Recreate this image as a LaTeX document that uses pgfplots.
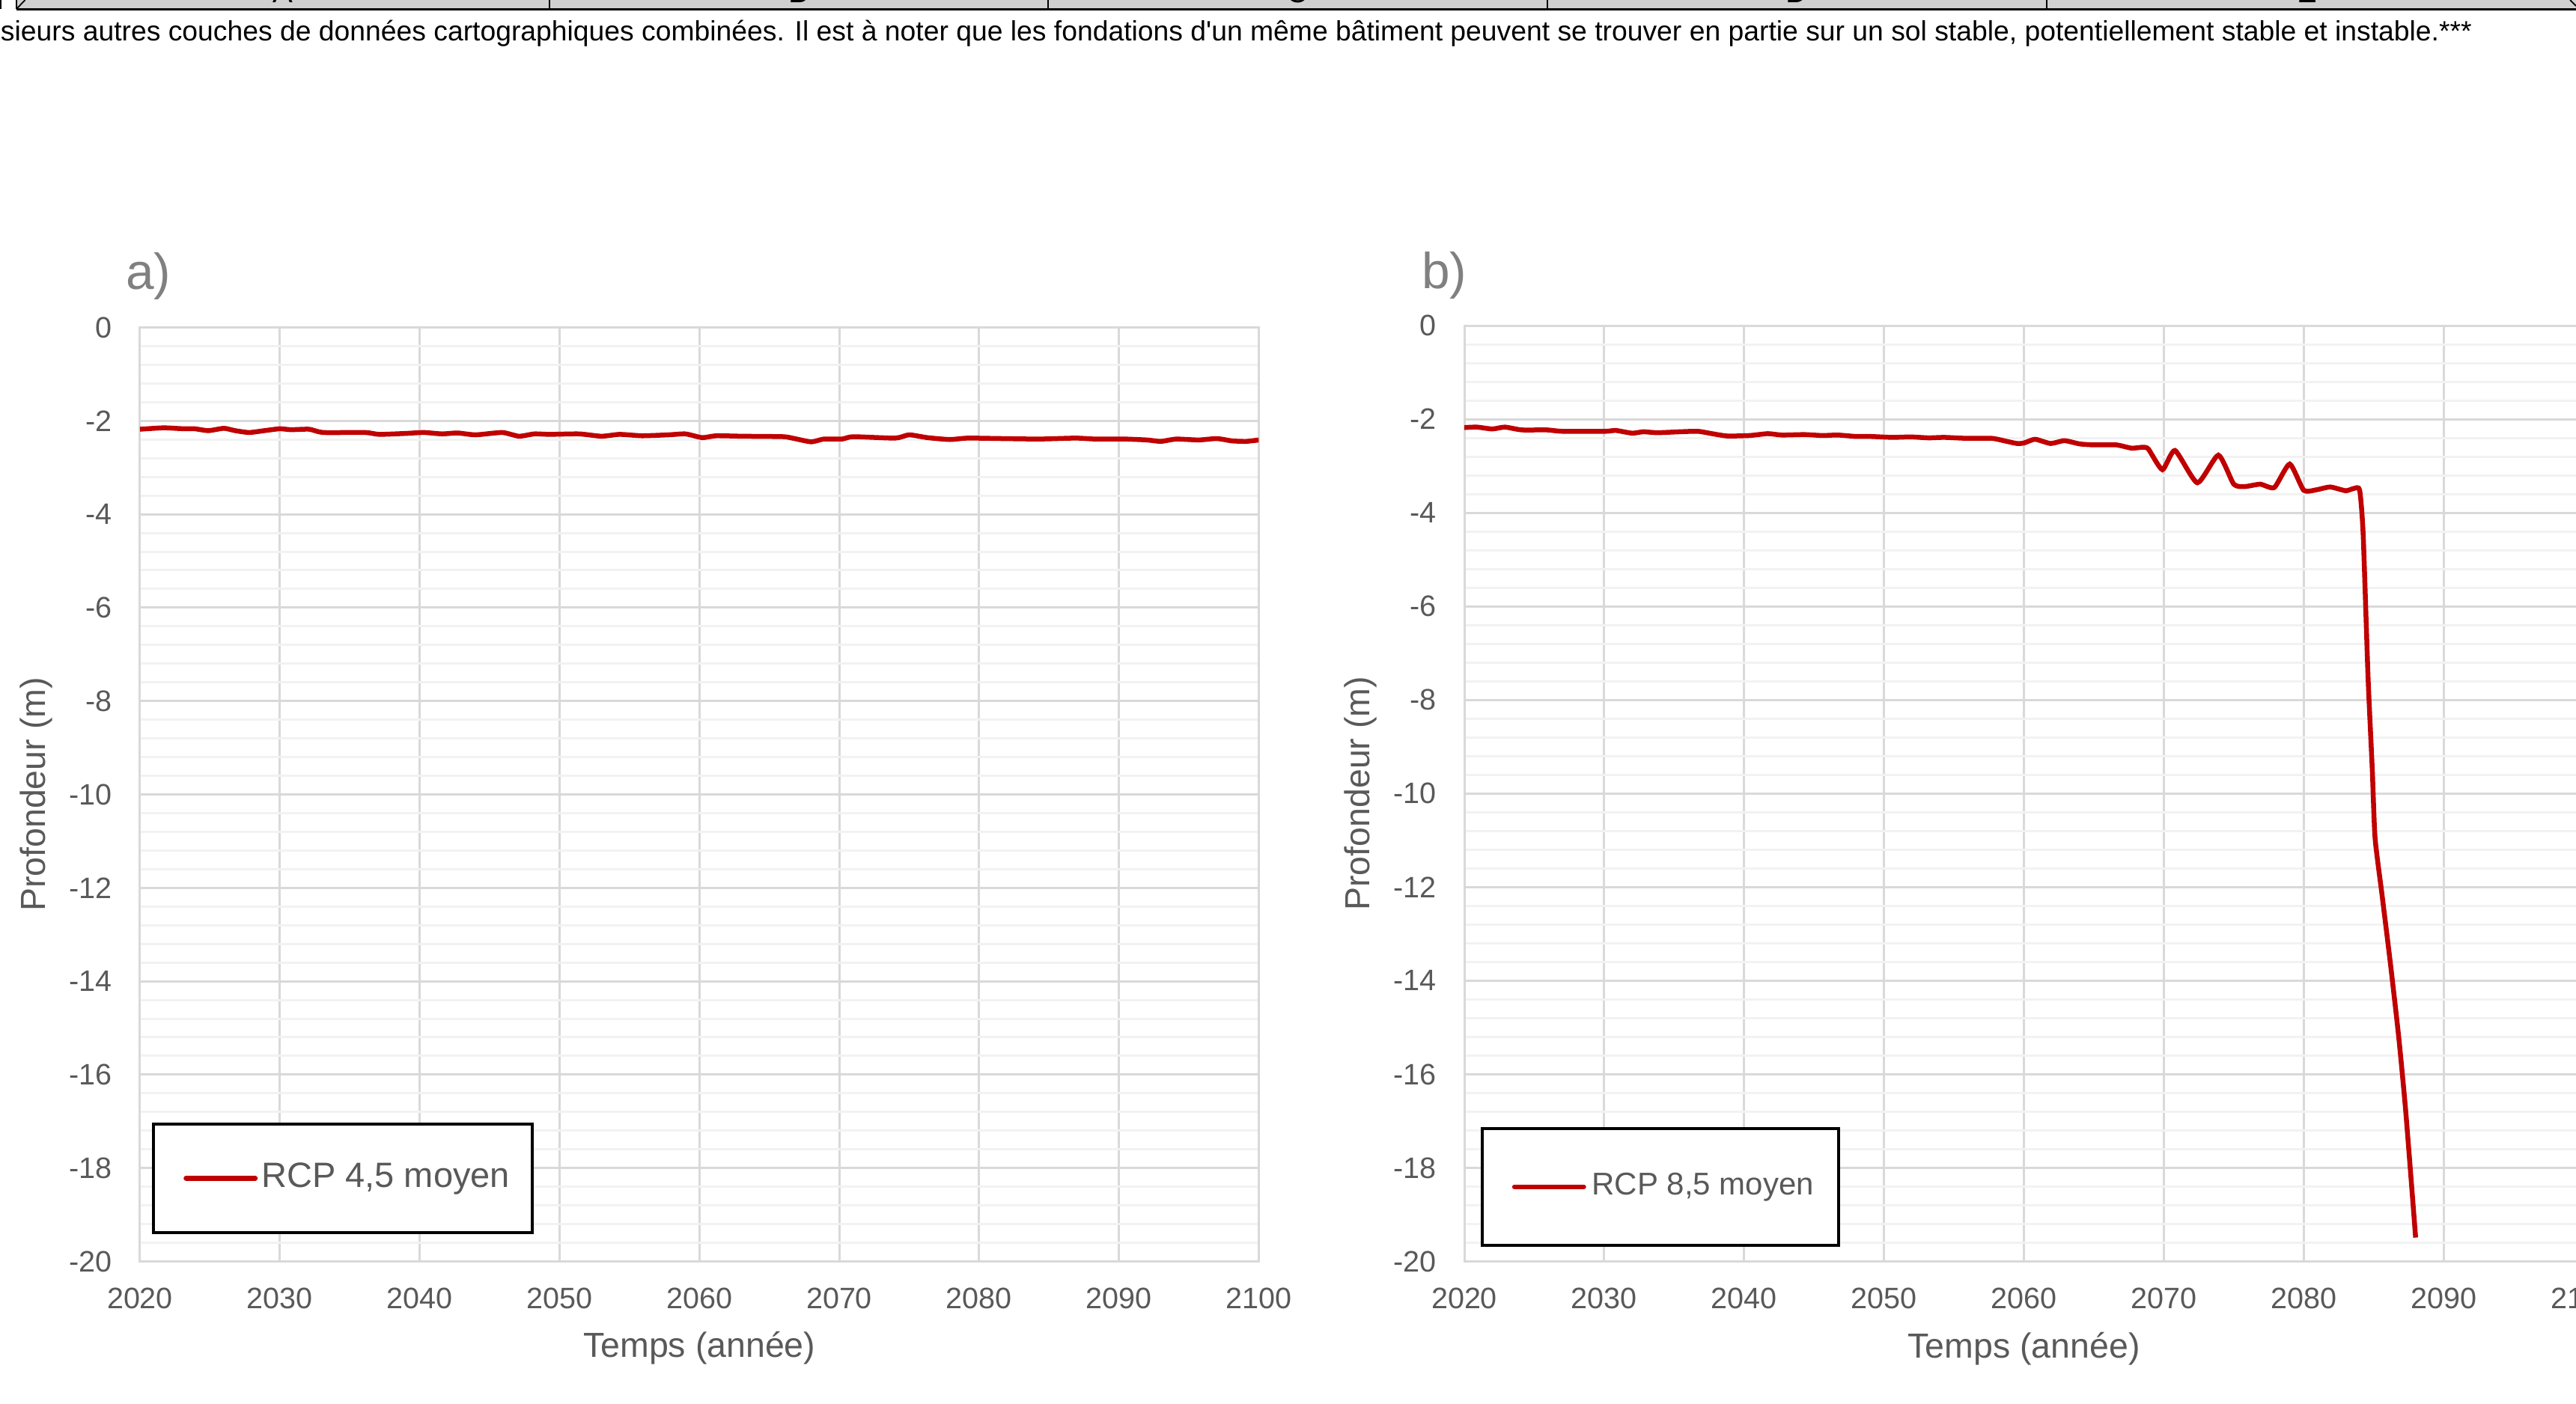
\documentclass[border=0pt]{standalone}
\usepackage{fontspec}
\setmainfont{Liberation Sans}
\usepackage{pgfplots}
\pgfplotsset{compat=1.18}
\definecolor{excelred}{HTML}{C00000}
\definecolor{gridmaj}{HTML}{D9D9D9}
\definecolor{gridmin}{HTML}{F2F2F2}
\definecolor{labgray}{HTML}{595959}
\definecolor{titlegray}{HTML}{808080}
\definecolor{stripgray}{HTML}{D0D0D0}
\pgfplotsset{
  myaxis/.style={
    scale only axis, width=298.9pt, height=249.6pt,
    xmin=2020, xmax=2100, ymin=-20, ymax=0,
    xtick={2020,2030,...,2100}, ytick={-20,-18,...,0},
    minor y tick num=4,
    grid=both,
    major grid style={draw=gridmaj, line width=0.6pt},
    minor grid style={draw=gridmin, line width=0.6pt},
    axis line style={draw=gridmaj, line width=0.6pt},
    tick style={draw=none},
    major tick length=0pt, minor tick length=0pt,
    tick label style={font=\fontsize{7.9}{9}\selectfont, text=labgray},
    /pgf/number format/assume math mode=true,
    /pgf/number format/1000 sep={},
    yticklabel style={inner sep=0pt, anchor=east, xshift=-7.3pt},
    xticklabel style={inner sep=0pt, anchor=north, yshift=-6.9pt},
    label style={font=\fontsize{9.3}{11}\selectfont, text=labgray},
    xlabel={Temps (année)},
    ylabel={Profondeur (m)},
    xlabel style={at={(axis description cs:0.5,-0.093)}, anchor=center, inner sep=0pt},
    ylabel style={at={(axis description cs:-0.0925,0.5)}, anchor=center, inner sep=0pt},
    legend image code/.code={\draw[#1, line cap=round] (0pt,0pt) -- (18.5pt,0pt);},
  }
}
\begin{document}
\begin{tikzpicture}
% header strip (spreadsheet columns)
\fill[stripgray] (4.4pt,372.5pt) rectangle (688.2pt,376pt);
\draw[black, line width=0.5pt] (4.4pt,372.5pt) -- (688.2pt,372.5pt);
\draw[black, line width=0.35pt] (4.4pt,372.5pt) -- (4.4pt,376pt);
\draw[black, line width=0.35pt] (4.4pt,372.6pt) -- (6.7pt,375pt);
\foreach \xx in {146.8,280,413.4,546.8} {\draw[black, line width=0.35pt] (\xx pt,372.5pt) -- (\xx pt,376pt);}
\draw[black, line width=0.35pt] (686.6pt,375pt) -- (688.2pt,373.4pt);
\foreach \xx/\ll in {75.6/A,213.4/B,346.6/C,480/D,616.4/E} {\node[anchor=base, inner sep=0pt, font=\fontsize{8}{9}\selectfont] at (\xx pt,374.2pt) {\ll};}
\draw[black, line width=0.6pt] (0pt,372.5pt) -- (0pt,376pt);
% top text line
\node[anchor=base west, inner sep=0pt, font=\fontsize{7.46}{9}\selectfont] at (0pt,364pt) {sieurs autres couches de données cartographiques combinées. Il est à noter que les fondations d\textquotesingle un même bâtiment peuvent se trouver en partie sur un sol stable, potentiellement stable et instable.***};
% panel labels
\node[anchor=base west, inner sep=0pt, font=\fontsize{13.5}{15}\selectfont, text=titlegray] at (33.4pt,297.7pt) {a)};
\node[anchor=base west, inner sep=0pt, font=\fontsize{13.5}{15}\selectfont, text=titlegray] at (379.6pt,297.9pt) {b)};

\begin{axis}[myaxis, at={(37.4pt,37.9pt)}, anchor=south west,
  legend style={at={(0.0107,0.0292)}, anchor=south west, draw=black, line width=0.9pt,
    inner xsep=8.0pt, inner ysep=10.1pt, column sep=1.0pt,
    nodes={inner sep=0pt, text height=6.8pt, text depth=2pt, font=\fontsize{9.4}{11}\selectfont, text=labgray}}]
\addplot[color=excelred, line width=1.3pt, smooth, tension=0.35] coordinates {
(2020,-2.18) (2021.7,-2.15) (2023.1,-2.17) (2023.9,-2.17) (2024.9,-2.21) (2026.0,-2.16) (2026.8,-2.21) (2027.8,-2.25) (2028.9,-2.21) (2030.0,-2.17) (2030.8,-2.19) (2032.1,-2.18) (2033.1,-2.25) (2036.1,-2.25) (2037.1,-2.29) (2039.0,-2.27) (2040.3,-2.25) (2041.6,-2.28) (2042.7,-2.26) (2044.0,-2.30) (2045.9,-2.25) (2047.1,-2.33) (2048.2,-2.28) (2049.3,-2.29) (2051.4,-2.28) (2053.0,-2.33) (2054.3,-2.29) (2055.9,-2.32) (2057.8,-2.30) (2059.0,-2.28) (2060.2,-2.36) (2061.2,-2.32) (2063.1,-2.33) (2066.0,-2.34) (2066.8,-2.38) (2068.0,-2.45) (2068.9,-2.39) (2070.2,-2.39) (2071.0,-2.34) (2074.0,-2.37) (2075.0,-2.30) (2076.3,-2.36) (2077.9,-2.40) (2079.2,-2.37) (2081.6,-2.38) (2084.3,-2.39) (2086.9,-2.37) (2088.3,-2.39) (2090.4,-2.39) (2092.0,-2.41) (2093.0,-2.44) (2094.1,-2.39) (2095.7,-2.41) (2097.0,-2.38) (2098.1,-2.43) (2099.1,-2.44) (2100,-2.41)
};
\addlegendentry{RCP 4,5 moyen\hspace*{-2.0pt}}
\end{axis}

\begin{axis}[myaxis, width=299pt, height=250.1pt, at={(391.2pt,37.9pt)}, anchor=south west,
  legend style={at={(0.0144,0.0156)}, anchor=south west, draw=black, line width=0.9pt,
    inner xsep=8.0pt, inner ysep=11.65pt, column sep=1.55pt,
    nodes={inner sep=0pt, text height=6.1pt, text depth=1.8pt, font=\fontsize{8.4}{10}\selectfont, text=labgray}}]
\addplot[color=excelred, line width=1.3pt, smooth, tension=0.35] coordinates {
(2020,-2.18) (2020.9,-2.17) (2022,-2.21) (2022.9,-2.17) (2024.1,-2.23) (2025.9,-2.23) (2027,-2.26) (2030.1,-2.26) (2030.8,-2.24) (2032,-2.30) (2032.8,-2.27) (2033.8,-2.29) (2035.4,-2.27) (2036.7,-2.26) (2037.7,-2.31) (2038.8,-2.36) (2040.4,-2.35) (2041.7,-2.31) (2042.7,-2.34) (2044.3,-2.33) (2045.6,-2.35) (2046.7,-2.34) (2048,-2.37) (2049,-2.37) (2050.6,-2.39) (2051.9,-2.38) (2053.2,-2.40) (2054.3,-2.39) (2055.9,-2.41) (2057.7,-2.41) (2058.7,-2.47) (2059.5,-2.52) (2060,-2.51) (2060.8,-2.43) (2061.9,-2.52) (2062.9,-2.46) (2064,-2.53) (2065,-2.55) (2066.6,-2.55) (2067.7,-2.62) (2068.5,-2.60) (2068.9,-2.64) (2069.9,-3.08) (2070.8,-2.67) (2072.4,-3.36) (2073.9,-2.77) (2075.0,-3.39) (2075.8,-3.44) (2076.9,-3.39) (2077.9,-3.46) (2079.0,-2.96) (2080.0,-3.52) (2080.9,-3.51) (2081.9,-3.45) (2083.0,-3.53) (2083.6,-3.48) (2084.0,-3.52) (2084.25,-4.46) (2084.6,-7.52) (2084.9,-9.48) (2085.1,-10.95) (2085.6,-12.17) (2086.2,-13.64) (2086.8,-15.23) (2087.3,-16.82) (2088.0,-19.49)
};
\addlegendentry{RCP 8,5 moyen\hspace*{-1.4pt}}
\end{axis}
\pgfresetboundingbox
\useasboundingbox (0pt,0pt) rectangle (688.2pt,375pt);
\end{tikzpicture}
\end{document}
